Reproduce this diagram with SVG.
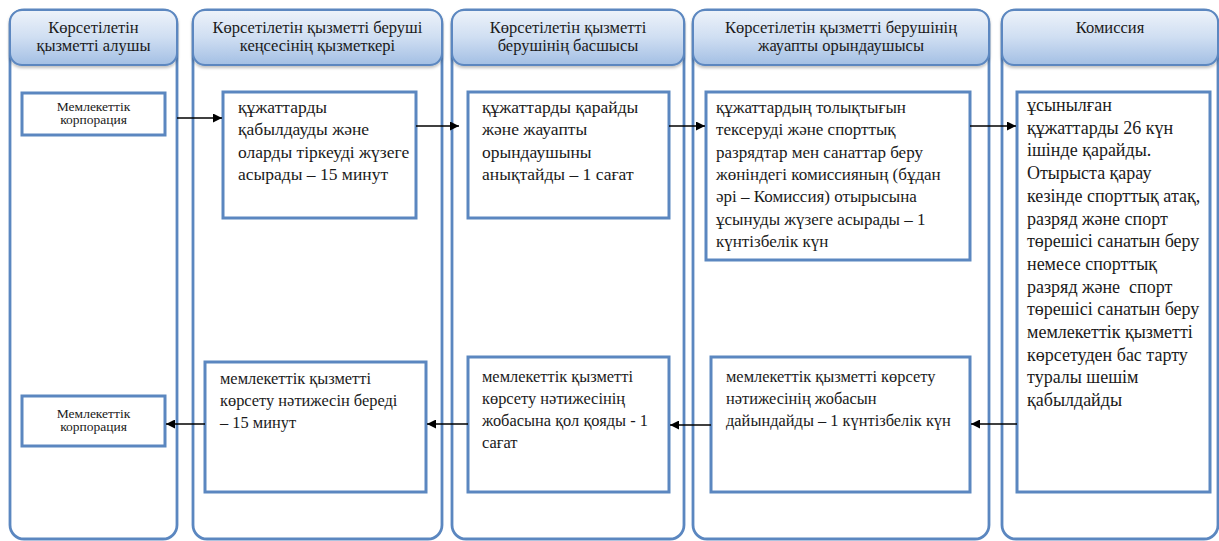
<svg xmlns="http://www.w3.org/2000/svg" width="1219" height="541" viewBox="0 0 1219 541">
<style>
.lane{fill:#ffffff;stroke:#5b87c0;stroke-width:2.8}
.hdr{stroke:#5b87c0;stroke-width:2;fill:url(#hg)}
.box{fill:#ffffff;stroke:#5b87c0;stroke-width:3}
.ht{font-family:"Liberation Serif","Times New Roman",serif;font-size:16.5px;fill:#1a1a1a;text-anchor:middle}
.t{font-family:"Liberation Serif","Times New Roman",serif;font-size:17px;fill:#1a1a1a}
.tb{font-size:17.5px}
.tc{font-size:18px}
.td{font-size:16.4px}
.st{font-family:"Liberation Serif","Times New Roman",serif;font-size:13.5px;fill:#1a1a1a;text-anchor:middle}
.c{stroke:#000000;stroke-width:1.3;fill:none;marker-end:url(#ah)}
</style>
<defs>
<linearGradient id="hg" x1="0" y1="0" x2="0" y2="1">
<stop offset="0" stop-color="#eef3fa"/>
<stop offset="0.5" stop-color="#cfdef2"/>
<stop offset="1" stop-color="#a3bfe4"/>
</linearGradient>
<filter id="sh" x="-5%" y="-10%" width="110%" height="130%">
<feDropShadow dx="0" dy="2" stdDeviation="1.5" flood-color="#000000" flood-opacity="0.25"/>
</filter>
<marker id="ah" viewBox="0 0 10 10" refX="10" refY="5" markerWidth="9" markerHeight="9" markerUnits="userSpaceOnUse" orient="auto">
<path d="M0,0 L10,5 L0,10 z" fill="#000000"/>
</marker>
</defs>

<g id="lane1">
<rect class="lane" x="10" y="10" width="167" height="529" rx="14"/>
<rect class="hdr" x="10" y="10" width="167" height="55" rx="12" filter="url(#sh)"/>
<text class="ht" x="93.5" y="33">Көрсетілетін</text>
<text class="ht" x="93.5" y="51">қызметті алушы</text>
</g>
<g id="lane2">
<rect class="lane" x="193" y="10" width="249" height="529" rx="14"/>
<rect class="hdr" x="193" y="10" width="249" height="55" rx="12" filter="url(#sh)"/>
<text class="ht" x="317.5" y="33">Көрсетілетін қызметті беруші</text>
<text class="ht" x="317.5" y="51">кеңсесінің қызметкері</text>
</g>
<g id="lane3">
<rect class="lane" x="452" y="10" width="232" height="529" rx="14"/>
<rect class="hdr" x="452" y="10" width="232" height="55" rx="12" filter="url(#sh)"/>
<text class="ht" x="568" y="33">Көрсетілетін қызметті</text>
<text class="ht" x="568" y="51">берушінің басшысы</text>
</g>
<g id="lane4">
<rect class="lane" x="693" y="10" width="296" height="529" rx="14"/>
<rect class="hdr" x="693" y="10" width="296" height="55" rx="12" filter="url(#sh)"/>
<text class="ht" x="841" y="33">Көрсетілетін қызметті берушінің</text>
<text class="ht" x="841" y="51">жауапты орындаушысы</text>
</g>
<g id="lane5">
<rect class="lane" x="1002" y="10" width="216" height="529" rx="14"/>
<rect class="hdr" x="1002" y="10" width="216" height="55" rx="12" filter="url(#sh)"/>
<text class="ht" x="1110" y="33">Комиссия</text>
</g>

<g id="n1">
<rect class="box" x="22" y="93" width="143" height="42"/>
<text class="st" x="93.5" y="111">Мемлекеттік</text>
<text class="st" x="93.5" y="124">корпорация</text>
</g>
<g id="n2">
<rect class="box" x="223" y="92" width="193" height="126"/>
<text class="t tb" x="238"><tspan x="238" y="113">құжаттарды</tspan><tspan x="238" y="135.3">қабылдауды және</tspan><tspan x="238" y="157.6">оларды тіркеуді жүзеге</tspan><tspan x="238" y="179.9">асырады – 15 минут</tspan></text>
</g>
<g id="n3">
<rect class="box" x="468" y="92" width="201" height="126"/>
<text class="t tb" x="482"><tspan x="482" y="113">құжаттарды қарайды</tspan><tspan x="482" y="135.3">және жауапты</tspan><tspan x="482" y="157.6">орындаушыны</tspan><tspan x="482" y="179.9">анықтайды – 1 сағат</tspan></text>
</g>
<g id="n4">
<rect class="box" x="706" y="92" width="264" height="168"/>
<text class="t" x="716"><tspan x="716" y="113">құжаттардың толықтығын</tspan><tspan x="716" y="135.3">тексеруді және спорттық</tspan><tspan x="716" y="157.6">разрядтар мен санаттар беру</tspan><tspan x="716" y="179.9">жөніндегі комиссияның (бұдан</tspan><tspan x="716" y="202.2">әрі – Комиссия) отырысына</tspan><tspan x="716" y="224.5">ұсынуды жүзеге асырады – 1</tspan><tspan x="716" y="246.8">күнтізбелік күн</tspan></text>
</g>
<g id="n5">
<rect class="box" x="1017" y="92" width="193" height="400"/>
<text class="t tc" x="1027"><tspan x="1027" y="111">ұсынылған</tspan><tspan x="1027" y="133.7">құжаттарды 26 күн</tspan><tspan x="1027" y="156.4">ішінде қарайды.</tspan><tspan x="1027" y="179.1">Отырыста қарау</tspan><tspan x="1027" y="201.8">кезінде спорттық атақ,</tspan><tspan x="1027" y="224.5">разряд және спорт</tspan><tspan x="1027" y="247.2">төрешісі санатын беру</tspan><tspan x="1027" y="269.9">немесе спорттық</tspan><tspan x="1027" y="292.6">разряд және&#160; спорт</tspan><tspan x="1027" y="315.3">төрешісі санатын беру</tspan><tspan x="1027" y="338">мемлекеттік қызметті</tspan><tspan x="1027" y="360.7">көрсетуден бас тарту</tspan><tspan x="1027" y="383.4">туралы шешім</tspan><tspan x="1027" y="406.1">қабылдайды</tspan></text>
</g>
<g id="n6">
<rect class="box" x="711" y="357" width="259" height="135"/>
<text class="t td" x="726"><tspan x="726" y="382">мемлекеттік қызметті көрсету</tspan><tspan x="726" y="404">нәтижесінің жобасын</tspan><tspan x="726" y="426">дайындайды – 1 күнтізбелік күн</tspan></text>
</g>
<g id="n7">
<rect class="box" x="468" y="357" width="201" height="135"/>
<text class="t td" x="482"><tspan x="482" y="382">мемлекеттік қызметті</tspan><tspan x="482" y="404">көрсету нәтижесінің</tspan><tspan x="482" y="426">жобасына қол қояды - 1</tspan><tspan x="482" y="448">сағат</tspan></text>
</g>
<g id="n8">
<rect class="box" x="205" y="362" width="221" height="130"/>
<text class="t td" x="220"><tspan x="220" y="384">мемлекеттік қызметті</tspan><tspan x="220" y="406">көрсету нәтижесін береді</tspan><tspan x="220" y="428">– 15 минут</tspan></text>
</g>
<g id="n9">
<rect class="box" x="22" y="396" width="143" height="50"/>
<text class="st" x="93.5" y="418">Мемлекеттік</text>
<text class="st" x="93.5" y="431">корпорация</text>
</g>

<g id="connectors">
<line class="c" x1="177" y1="118" x2="222" y2="118"/>
<line class="c" x1="416" y1="126" x2="459" y2="126"/>
<line class="c" x1="669" y1="126" x2="705" y2="126"/>
<line class="c" x1="970" y1="126" x2="1016" y2="126"/>
<line class="c" x1="1017" y1="424" x2="971" y2="424"/>
<line class="c" x1="711" y1="425" x2="670" y2="425"/>
<line class="c" x1="468" y1="424" x2="427" y2="424"/>
<line class="c" x1="205" y1="424" x2="166" y2="424"/>
</g>
</svg>
